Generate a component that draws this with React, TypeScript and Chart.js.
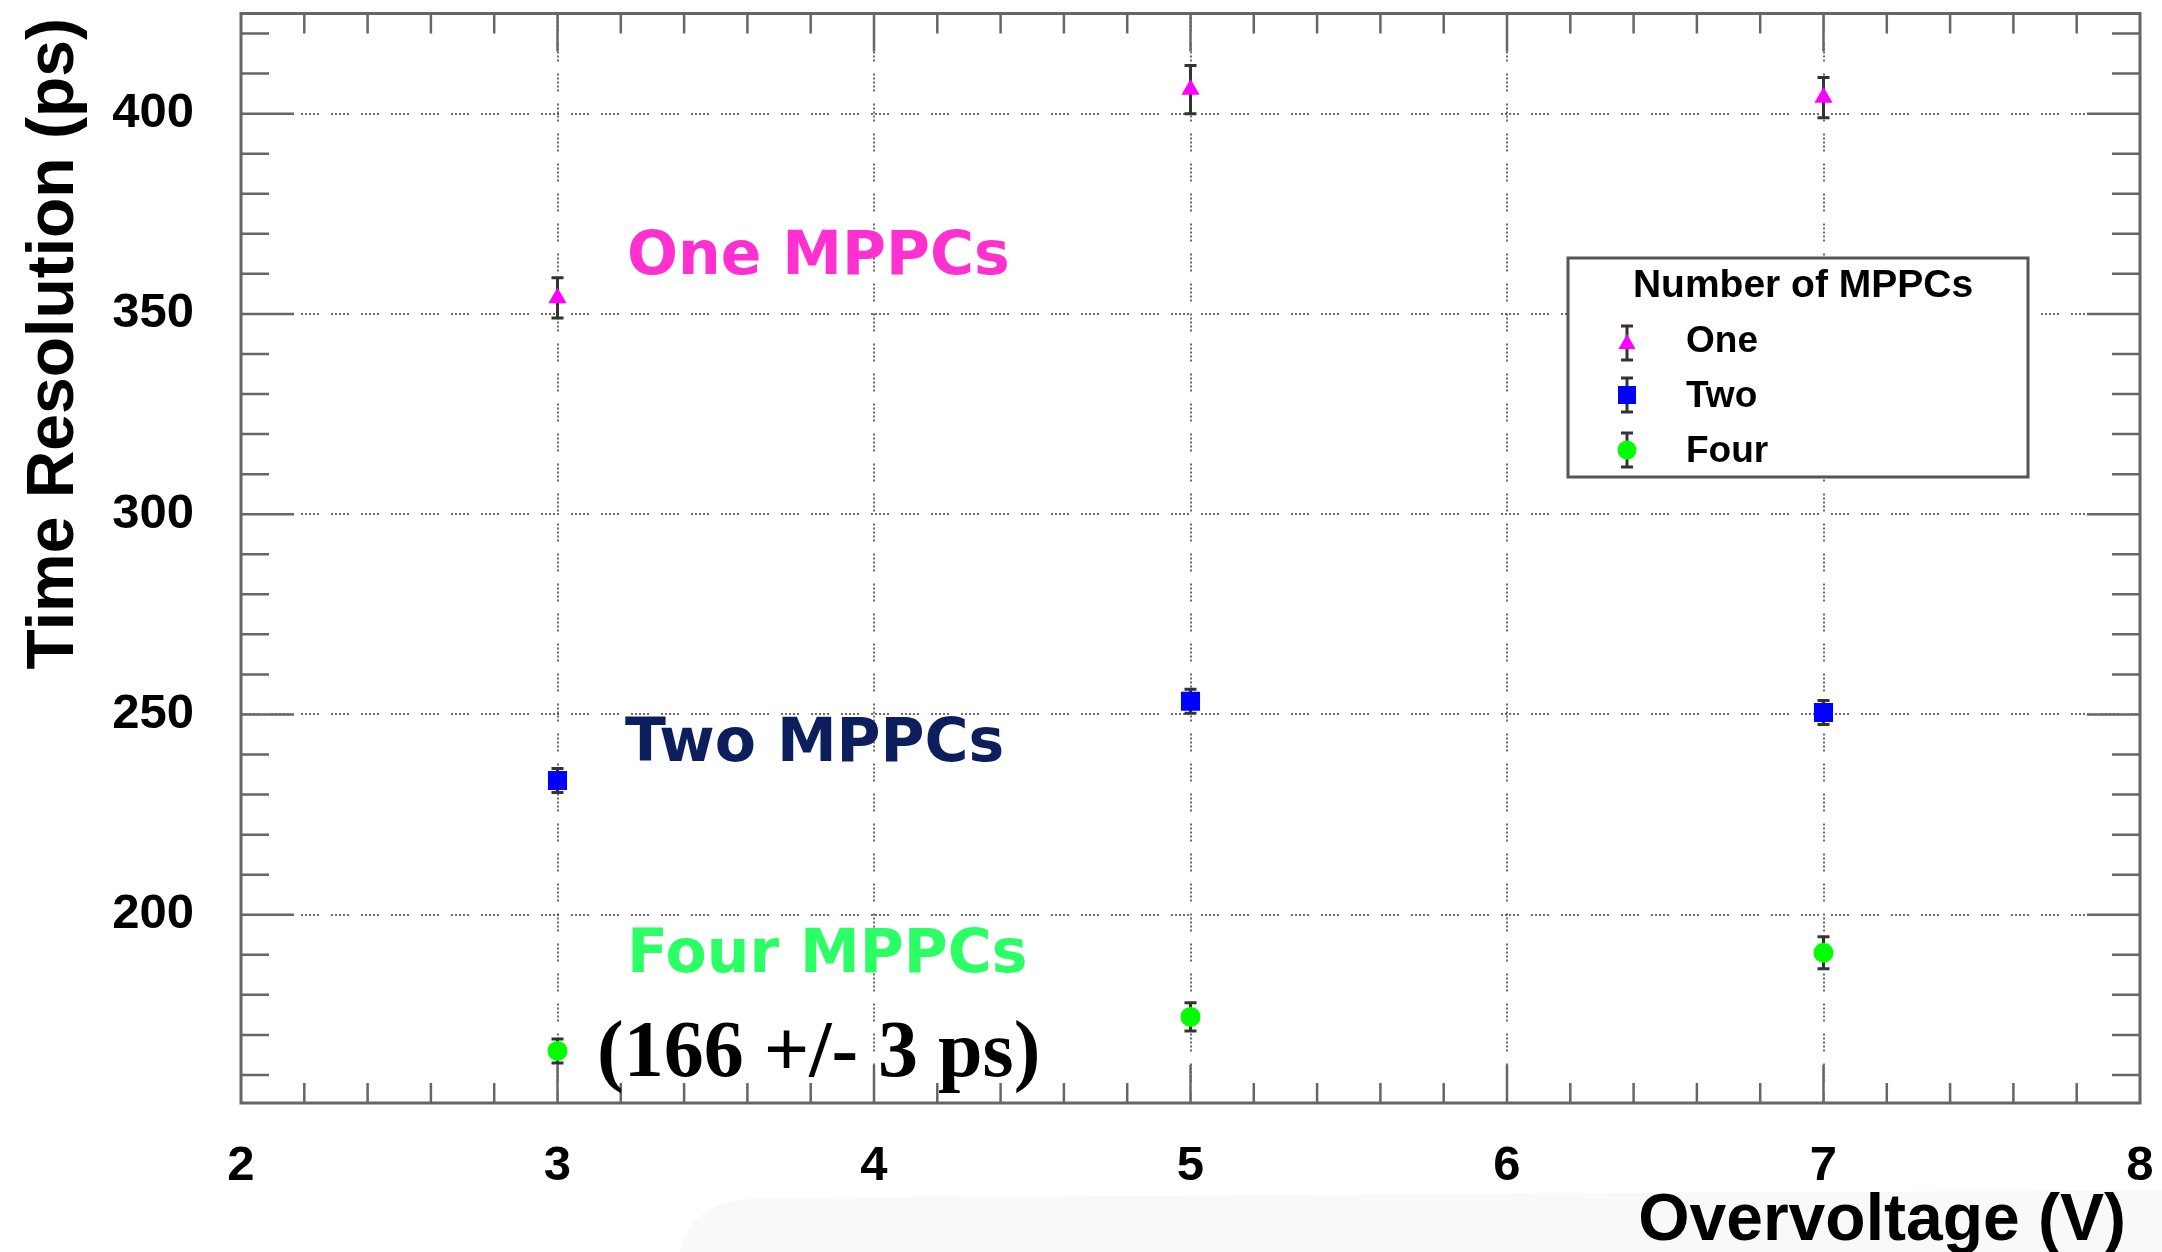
import { useEffect, useRef } from "react";
import { Chart, registerables } from "chart.js";

Chart.register(...registerables);

// Overvoltage scan: time resolution for one, two and four MPPCs
const overvoltage = [3, 5, 7];
const oneMppc = [354, 406, 404];
const oneErr = [5, 6, 5];
const twoMppc = [233.5, 253.3, 250.5];
const twoErr = [3, 3, 3];
const fourMppc = [166, 174.5, 190.5];
const fourErr = [3, 3.5, 4];

const xTicks = [2, 3, 4, 5, 6, 7, 8];
const yTicks = [200, 250, 300, 350, 400];
const xMinorStep = 0.2;
const yMinorStep = 10;
const X_MIN = 2;
const X_MAX = 8;
const Y_MIN = 153;
const Y_MAX = 425;

const legendTitle = "Number of MPPCs";
const seriesNames = ["One", "Two", "Four"];
const seriesColors = ["#ff00ff", "#0000ff", "#00ff00"];
const seriesStyles = ["triangle", "rect", "circle"];

const W = 2162;
const H = 1252;
const SANS = "'Liberation Sans', Arial, Helvetica, sans-serif";
const GRID_DASH = [2, 2, 2, 2, 2, 2, 2, 2, 2, 12];

function drawMarker(ctx: CanvasRenderingContext2D, style: string, x: number, y: number, color: string) {
  ctx.save();
  ctx.fillStyle = color;
  ctx.beginPath();
  if (style === "triangle") {
    ctx.moveTo(x, y - 9);
    ctx.lineTo(x + 8.5, y + 6);
    ctx.lineTo(x - 8.5, y + 6);
    ctx.closePath();
  } else if (style === "rect") {
    ctx.rect(x - 9, y - 9, 18, 18);
  } else {
    ctx.arc(x, y, 9.5, 0, Math.PI * 2);
  }
  ctx.fill();
  ctx.restore();
}

function drawErrorBar(ctx: CanvasRenderingContext2D, x: number, yTop: number, yBot: number) {
  ctx.save();
  ctx.strokeStyle = "#333";
  ctx.lineWidth = 3;
  ctx.beginPath();
  ctx.moveTo(x, yTop);
  ctx.lineTo(x, yBot);
  ctx.moveTo(x - 6, yTop);
  ctx.lineTo(x + 6, yTop);
  ctx.moveTo(x - 6, yBot);
  ctx.lineTo(x + 6, yBot);
  ctx.stroke();
  ctx.restore();
}

const series = [
  { values: oneMppc, errors: oneErr },
  { values: twoMppc, errors: twoErr },
  { values: fourMppc, errors: fourErr },
];

const decorPlugin = {
  id: "decor",
  beforeDraw(chart: any) {
    // faint backdrop band along the lower edge
    const ctx = chart.ctx as CanvasRenderingContext2D;
    ctx.save();
    ctx.fillStyle = "#f9f9f9";
    ctx.beginPath();
    ctx.moveTo(680, H);
    ctx.quadraticCurveTo(690, 1200, 760, 1198);
    ctx.lineTo(W, 1190);
    ctx.lineTo(W, H);
    ctx.closePath();
    ctx.fill();
    ctx.restore();
  },
  beforeDatasetsDraw(chart: any) {
    const ctx = chart.ctx as CanvasRenderingContext2D;
    const xs = chart.scales.x;
    const ys = chart.scales.y;
    series.forEach((s) => {
      overvoltage.forEach((v, i) => {
        const px = xs.getPixelForValue(v);
        drawErrorBar(ctx, px, ys.getPixelForValue(s.values[i] + s.errors[i]), ys.getPixelForValue(s.values[i] - s.errors[i]));
      });
    });
  },
  afterDraw(chart: any) {
    const ctx = chart.ctx as CanvasRenderingContext2D;
    const xs = chart.scales.x;
    const ys = chart.scales.y;
    const { left, right, top, bottom } = chart.chartArea;

    // frame
    ctx.save();
    ctx.strokeStyle = "#666";
    ctx.lineWidth = 3;
    ctx.strokeRect(left, top, right - left, bottom - top);

    // tick marks on all four sides
    ctx.lineWidth = 2.5;
    ctx.beginPath();
    for (let v = Y_MIN - (Y_MIN % yMinorStep) + yMinorStep; v <= Y_MAX; v += yMinorStep) {
      const major = yTicks.includes(v);
      const len = major ? 53 : 28;
      const py = ys.getPixelForValue(v);
      ctx.moveTo(left, py);
      ctx.lineTo(left + len, py);
      ctx.moveTo(right, py);
      ctx.lineTo(right - len, py);
    }
    const nx = Math.round((X_MAX - X_MIN) / xMinorStep);
    for (let k = 1; k < nx; k++) {
      const v = X_MIN + k * xMinorStep;
      const major = Math.abs(v - Math.round(v)) < 1e-6;
      const len = major ? 38 : 20;
      const px = xs.getPixelForValue(v);
      ctx.moveTo(px, bottom);
      ctx.lineTo(px, bottom - len);
      ctx.moveTo(px, top);
      ctx.lineTo(px, top + len);
    }
    ctx.stroke();

    // tick labels
    ctx.fillStyle = "#000";
    ctx.font = `bold 49px ${SANS}`;
    ctx.textAlign = "right";
    ctx.textBaseline = "middle";
    yTicks.forEach((v) => ctx.fillText(String(v), 194, ys.getPixelForValue(v)));
    ctx.textAlign = "center";
    ctx.textBaseline = "alphabetic";
    xTicks.forEach((v) => ctx.fillText(String(v), xs.getPixelForValue(v), 1180));

    // axis titles
    ctx.font = `bold 66px ${SANS}`;
    ctx.textAlign = "right";
    ctx.fillText("Overvoltage (V)", 2126, 1240);
    ctx.save();
    ctx.translate(73, 18);
    ctx.rotate(-Math.PI / 2);
    ctx.textAlign = "right";
    ctx.fillText("Time Resolution (ps)", 0, 0);
    ctx.restore();

    // annotations
    ctx.textAlign = "left";
    ctx.font = `bold 60px 'DejaVu Sans', Verdana, sans-serif`;
    ctx.fillStyle = "#ff30d0";
    ctx.fillText("One MPPCs", 627, 274);
    ctx.fillStyle = "#0c1e5b";
    ctx.fillText("Two MPPCs", 625, 761);
    ctx.fillStyle = "#2cff66";
    ctx.fillText("Four MPPCs", 627, 972);
    ctx.fillStyle = "#000";
    ctx.font = `bold 80px 'Liberation Serif', 'Times New Roman', serif`;
    ctx.fillText("(166 +/- 3 ps)", 597, 1076);

    // legend box
    const lx = 1568, ly = 258, lw = 460, lh = 219;
    ctx.fillStyle = "#fff";
    ctx.fillRect(lx, ly, lw, lh);
    ctx.strokeStyle = "#555";
    ctx.lineWidth = 3;
    ctx.strokeRect(lx, ly, lw, lh);
    ctx.fillStyle = "#000";
    ctx.textAlign = "center";
    ctx.font = `bold 39px ${SANS}`;
    ctx.fillText(legendTitle, 1803, 297);
    const rowY = [343, 395, 450];
    const baseY = [352, 407, 462];
    ctx.textAlign = "left";
    ctx.font = `bold 37px ${SANS}`;
    seriesNames.forEach((name, i) => {
      drawErrorBar(ctx, 1627, rowY[i] - 17, rowY[i] + 17);
      drawMarker(ctx, seriesStyles[i], 1627, rowY[i], seriesColors[i]);
      ctx.fillStyle = "#000";
      ctx.fillText(name, 1686, baseY[i]);
    });
    ctx.restore();
  },
};

export default function App() {
  const canvasRef = useRef<HTMLCanvasElement | null>(null);

  useEffect(() => {
    const canvas = canvasRef.current;
    if (!canvas) return;
    const mk = (vals: number[]) => overvoltage.map((x, i) => ({ x, y: vals[i] }));
    const chart = new Chart(canvas, {
      type: "scatter",
      data: {
        datasets: [
          { label: seriesNames[0], data: mk(oneMppc), pointStyle: "triangle", pointRadius: 10.5, backgroundColor: seriesColors[0], borderColor: seriesColors[0], borderWidth: 0 },
          { label: seriesNames[1], data: mk(twoMppc), pointStyle: "rect", pointRadius: 13.5, backgroundColor: seriesColors[1], borderColor: seriesColors[1], borderWidth: 0 },
          { label: seriesNames[2], data: mk(fourMppc), pointStyle: "circle", pointRadius: 10, backgroundColor: seriesColors[2], borderColor: seriesColors[2], borderWidth: 0 },
        ],
      },
      options: {
        animation: false,
        responsive: false,
        devicePixelRatio: 1,
        layout: { padding: { left: 241, right: 22, top: 11, bottom: 149 } },
        plugins: { legend: { display: false }, tooltip: { enabled: false } },
        scales: {
          x: {
            type: "linear",
            min: X_MIN,
            max: X_MAX,
            afterBuildTicks: (s: any) => {
              s.ticks = xTicks.map((v) => ({ value: v }));
            },
            ticks: { display: false },
            grid: { drawTicks: false, color: "rgba(70,70,70,0.8)", lineWidth: 2 },
            border: { display: false, dash: GRID_DASH },
          },
          y: {
            type: "linear",
            min: Y_MIN,
            max: Y_MAX,
            afterBuildTicks: (s: any) => {
              s.ticks = yTicks.map((v) => ({ value: v }));
            },
            ticks: { display: false },
            grid: { drawTicks: false, color: "rgba(70,70,70,0.8)", lineWidth: 2 },
            border: { display: false, dash: GRID_DASH },
          },
        },
      },
      plugins: [decorPlugin],
    });
    return () => chart.destroy();
  }, []);

  return (
    <div style={{ position: "absolute", left: 0, top: 0, width: W, height: H, background: "#fff" }}>
      <canvas ref={canvasRef} width={W} height={H} style={{ display: "block", width: W, height: H }} />
    </div>
  );
}
